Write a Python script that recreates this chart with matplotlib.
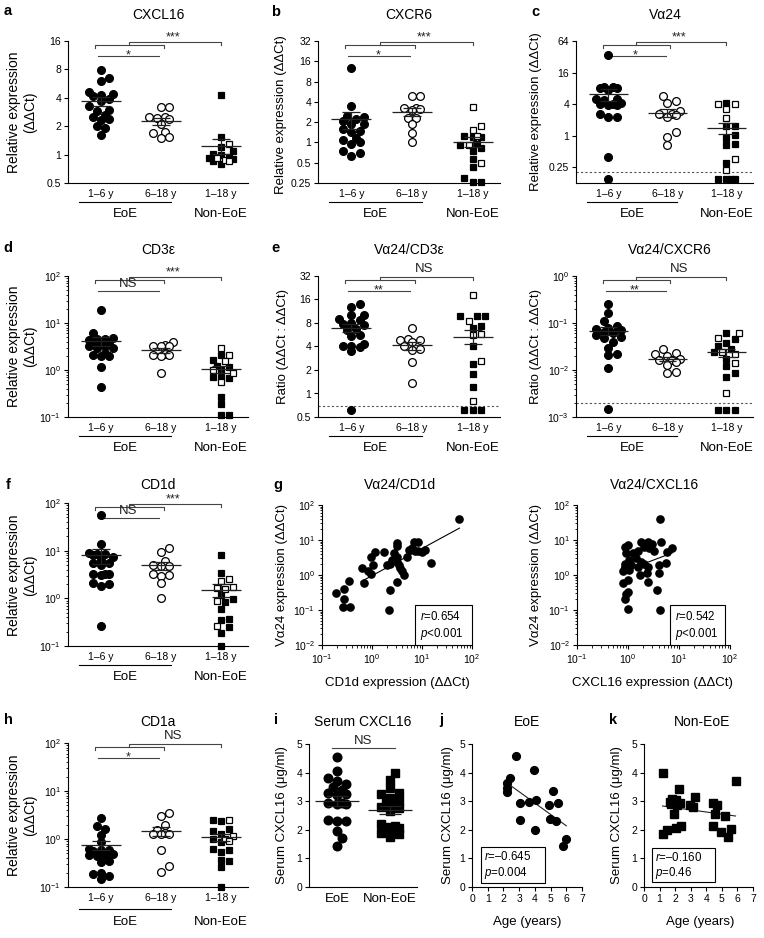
import numpy as np
import matplotlib
matplotlib.use('Agg')
import matplotlib.pyplot as plt
from matplotlib.patches import Rectangle
from matplotlib.ticker import LogLocator, NullLocator, NullFormatter

plt.rcParams['font.family'] = ['Liberation Sans', 'DejaVu Sans']
plt.rcParams['mathtext.fontset'] = 'custom'
plt.rcParams['mathtext.rm'] = 'Liberation Sans'
plt.rcParams['mathtext.it'] = 'Liberation Sans:italic'
plt.rcParams['mathtext.bf'] = 'Liberation Sans:bold'
plt.rcParams['axes.linewidth'] = 0.8
plt.rcParams['xtick.major.width'] = 0.8
plt.rcParams['ytick.major.width'] = 0.8
plt.rcParams['xtick.minor.width'] = 0.6
plt.rcParams['ytick.minor.width'] = 0.6
plt.rcParams['xtick.major.size'] = 3
plt.rcParams['ytick.major.size'] = 3
plt.rcParams['xtick.minor.size'] = 1.8
plt.rcParams['ytick.minor.size'] = 1.8
plt.rcParams['xtick.labelsize'] = 7.5
plt.rcParams['ytick.labelsize'] = 7.5
plt.rcParams['xtick.major.pad'] = 2
plt.rcParams['ytick.major.pad'] = 2

# ---------------- data ----------------
cat_labels = ['1–6 y', '6–18 y', '1–18 y']

# a: CXCL16
cxcl16_young = [7.9, 6.5, 6.0, 4.6, 4.4, 4.3, 4.2, 3.9, 3.7, 3.3, 3.0, 2.9, 2.6, 2.5, 2.4, 2.35, 2.0, 1.9, 1.6]
cxcl16_old = [3.2, 3.2, 2.5, 2.5, 2.45, 2.4, 2.1, 1.75, 1.7, 1.5, 1.55]
cxcl16_non_f = [4.3, 1.55, 1.2, 1.1, 1.02, 1.0, 0.95, 0.93, 0.9, 0.86, 0.8]
cxcl16_non_o = [1.28, 0.92, 0.88, 0.85]

# b: CXCR6
cxcr6_young = [12.6, 3.5, 2.5, 2.4, 2.2, 2.1, 1.9, 1.85, 1.6, 1.5, 1.45, 1.15, 1.1, 1.0, 0.95, 0.75, 0.7, 0.62]
cxcr6_old = [4.9, 4.9, 3.2, 3.2, 3.1, 3.0, 2.3, 2.3, 1.85, 1.4, 1.0]
cxcr6_non_f = [1.25, 1.2, 1.2, 0.95, 0.92, 0.83, 0.75, 0.57, 0.43, 0.3, 0.26, 0.26]
cxcr6_non_o = [3.4, 1.75, 1.55, 1.25, 0.92, 0.5]

# c: Va24
va24_young = [35, 8.4, 8.4, 8.2, 8.2, 7.6, 5.0, 5.0, 4.8, 4.2, 4.0, 4.0, 3.8, 3.8, 2.6, 2.3, 2.3, 0.4, 0.15]
va24_old = [5.6, 4.6, 4.2, 3.0, 2.6, 2.6, 2.5, 2.3, 1.2, 0.95, 0.65]
va24_non_f = [4.2, 1.55, 1.5, 1.05, 0.9, 0.68, 0.65, 0.3, 0.15, 0.15, 0.15, 0.15]
va24_non_o = [4.0, 4.1, 3.2, 2.2, 0.36, 0.22]

# d: CD3e
cd3_young = [19, 6.0, 4.8, 4.6, 4.5, 4.3, 3.9, 3.8, 3.7, 3.3, 3.2, 3.0, 2.9, 2.3, 2.1, 2.0, 2.0, 1.15, 0.44]
cd3_old = [3.9, 3.4, 3.3, 3.2, 3.2, 2.2, 2.1, 2.1, 2.0, 0.87]
cd3_non_f = [2.1, 1.6, 1.2, 1.15, 1.0, 0.7, 0.7, 0.68, 0.27, 0.19, 0.11, 0.11]
cd3_non_o = [3.0, 2.1, 1.55, 1.0, 0.85, 0.55]

# e: Va24/CD3e ratio
rcd3_young = [14, 12.7, 10.2, 10.0, 9.0, 8.8, 8.0, 7.8, 7.6, 6.8, 6.5, 5.6, 5.4, 4.3, 4.1, 4.0, 3.9, 3.5, 0.62]
rcd3_old = [6.9, 5.0, 4.9, 4.8, 4.6, 4.0, 3.7, 3.6, 2.5, 1.35]
rcd3_non_f = [9.9, 9.7, 9.8, 7.3, 6.9, 4.1, 2.4, 1.8, 1.2, 0.62, 0.62, 0.62]
rcd3_non_o = [18.3, 8.4, 5.8, 5.6, 2.6, 0.8]

# e (right): Va24/CXCR6 ratio
rcxcr6_young = [0.25, 0.16, 0.11, 0.085, 0.08, 0.075, 0.07, 0.065, 0.06, 0.055, 0.05, 0.048, 0.04,
                0.03, 0.022, 0.021, 0.011, 0.0015]
rcxcr6_old = [0.028, 0.023, 0.022, 0.02, 0.017, 0.016, 0.016, 0.015, 0.013, 0.0092, 0.0085]
rcxcr6_non_f = [0.06, 0.045, 0.038, 0.032, 0.028, 0.024, 0.017, 0.012, 0.0085, 0.007, 0.0014, 0.0014, 0.0014]
rcxcr6_non_o = [0.062, 0.048, 0.024, 0.022, 0.014, 0.0032]

# f: CD1d
cd1d_young = [55, 14, 9.0, 8.5, 8.5, 8.3, 7.5, 6.5, 5.6, 5.5, 5.0, 3.2, 3.1, 3.2, 3.3, 2.1, 2.0, 1.8, 0.26]
cd1d_old = [11.5, 9.5, 6.0, 5.0, 4.8, 4.7, 3.3, 3.1, 3.0, 2.1, 1.0]
cd1d_non_f = [8.0, 3.4, 1.2, 0.95, 0.82, 0.6, 0.36, 0.35, 0.25, 0.19, 0.1]
cd1d_non_o = [2.6, 2.3, 1.7, 1.6, 1.65, 0.87, 0.26]

# g: Va24 vs CD1d
g_cd1d = [0.19, 0.28, 0.28, 0.35, 0.26, 0.37, 0.63, 0.68, 0.85, 0.95, 0.95, 1.17, 1.07, 1.7, 1.95, 2.3, 2.3,
          2.2, 2.5, 2.8, 3.1, 3.1, 3.2, 3.2, 3.4, 3.7, 4.0, 4.3, 3.2, 4.9, 5.4, 6.3, 7.4, 6.8, 8.5, 8.5,
          10, 11.7, 14.8, 56]
g_va24 = [0.30, 0.39, 0.21, 0.69, 0.12, 0.12, 1.6, 0.60, 1.26, 1.07, 3.3, 4.4, 1.95, 4.4, 1.95, 2.1, 0.37,
          0.10, 2.7, 4.2, 8.3, 6.8, 3.3, 2.4, 1.95, 1.55, 1.26, 1.0, 0.65, 3.2, 5.1, 5.8, 4.7, 8.9, 8.9, 4.7,
          4.4, 5.1, 2.2, 39]
g_fit_start = 0.6

# g (right): Va24 vs CXCL16
g2_cxcl16 = [4.3, 0.87, 1.0, 0.93, 1.26, 1.55, 1.8, 2.45, 3.0, 2.1, 2.6, 3.3, 4.5, 5.9, 7.4, 1.45, 1.07,
             0.87, 1.15, 1.55, 1.8, 2.1, 2.45, 0.87, 1.07, 0.79, 0.98, 1.7, 2.35, 4.1, 4.1, 5.5, 2.45, 3.7,
             0.98, 0.93, 0.87, 0.98, 4.3, 0.89, 0.79]
g2_va24 = [39, 6.5, 7.2, 4.2, 4.2, 4.7, 8.9, 8.9, 7.9, 6.5, 5.8, 4.7, 8.9, 4.4, 6.0, 3.0, 2.7, 2.0, 1.95,
           1.74, 2.4, 2.1, 1.74, 1.55, 1.38, 0.58, 0.72, 0.98, 1.17, 1.95, 1.12, 2.2, 0.65, 0.37, 0.33,
           0.28, 0.21, 0.11, 0.10, 1.74, 1.26]
g2_fit_start = 0.85

# h: CD1a
cd1a_young = [2.8, 1.85, 1.65, 1.2, 0.85, 0.62, 0.6, 0.58, 0.56, 0.48, 0.47, 0.46, 0.44, 0.35, 0.33, 0.2,
              0.19, 0.17, 0.15]
cd1a_old = [3.5, 3.0, 2.0, 1.55, 1.35, 1.3, 1.3, 1.25, 0.58, 0.27, 0.21]
cd1a_non_f = [2.5, 2.4, 1.6, 1.5, 1.3, 1.0, 0.85, 0.62, 0.6, 0.53, 0.37, 0.34, 0.26, 0.1]
cd1a_non_o = [2.45, 1.15, 1.0, 0.9]

# i: serum CXCL16 (ug/ml)
serum_groups = ['EoE', 'Non-EoE']
serum_eoe = [4.55, 4.05, 3.8, 3.7, 3.6, 3.5, 3.4, 3.3, 3.25, 3.2, 2.95, 2.95, 2.9, 2.9, 2.35, 2.3, 2.3,
             1.95, 1.7, 1.45]
serum_non = [4.0, 3.75, 3.45, 3.3, 3.25, 3.1, 3.0, 2.95, 2.9, 2.85, 2.8, 2.75, 2.65, 2.2, 2.15, 2.1, 2.05,
             1.95, 1.9, 1.85, 1.75]

# j: EoE serum vs age
j_age = [2.77, 3.92, 2.4, 2.2, 2.2, 2.2, 3.04, 3.6, 4.1, 5.18, 4.93, 5.5, 3.07, 4.96, 5.33, 4.0, 6.0, 5.8]
j_serum = [4.58, 4.09, 3.8, 3.63, 3.47, 3.33, 2.93, 2.97, 3.05, 3.34, 2.87, 2.93, 2.33, 2.38, 2.31, 2.0,
           1.69, 1.44]

# k: Non-EoE serum vs age
k_age = [1.23, 1.19, 1.47, 1.68, 1.72, 1.83, 1.94, 2.05, 2.11, 2.26, 2.33, 1.9, 2.05, 2.39, 2.97, 3.13,
         3.3, 4.42, 4.68, 4.59, 4.42, 5.17, 4.96, 5.39, 5.56, 5.88]
k_serum = [4.0, 1.85, 1.98, 2.98, 2.9, 3.07, 2.93, 3.05, 2.85, 3.42, 2.93, 2.56, 2.08, 2.15, 2.85, 2.78,
           3.14, 2.95, 2.85, 2.56, 2.15, 2.49, 1.94, 1.74, 2.02, 3.71]

# ---------------- helpers ----------------
W, H = 764, 938
fig = plt.figure(figsize=(W / 100, H / 100), dpi=100)


def add_ax(x0, y0, x1, y1):
    # axes from pixel box (left, top, right, bottom)
    ax = fig.add_axes([x0 / W, 1 - y1 / H, (x1 - x0) / W, (y1 - y0) / H])
    ax.spines['top'].set_visible(False)
    ax.spines['right'].set_visible(False)
    return ax


def ftext(x, y, s, **kw):
    kw.setdefault('ha', 'center')
    kw.setdefault('va', 'center')
    fig.text(x / W, 1 - y / H, s, **kw)


def swarm(ax, x0, vals, d=8.3, maxw=13):
    # beeswarm in pixel space, kept within +-maxw px of the centre;
    # points overlap a little when a row gets full (as in the original)
    vals = np.asarray(vals, float)
    pts = ax.transData.transform(np.column_stack([np.full(len(vals), x0), vals]))
    ys = pts[:, 1]
    steps = [0.0]
    k = 1
    while k * d * 0.5 <= maxw:
        steps += [k * d * 0.5, -k * d * 0.5]
        k += 1
    offs = np.zeros(len(vals))
    placed = []
    for i in np.argsort(ys):
        best, best_gap = 0.0, -1
        for c in steps:
            gap = min([np.hypot(c - px, ys[i] - py) for px, py in placed] or [99])
            if gap >= 0.85 * d:
                best = c
                break
            if gap > best_gap:
                best, best_gap = c, gap
        offs[i] = best
        placed.append((best, ys[i]))
    back = ax.transData.inverted().transform(np.column_stack([pts[:, 0] + offs, ys]))
    return back[:, 0]


def mean_sem(ax, x, vals, half=0.33, cap=0.15):
    v = np.asarray(vals, float)
    m = v.mean()
    s = v.std(ddof=1) / np.sqrt(len(v))
    kw = dict(color='#222222', lw=0.9, zorder=5, solid_capstyle='butt')
    ax.plot([x - half, x + half], [m, m], **kw)
    ax.plot([x, x], [m - s, m + s], **kw)
    ax.plot([x - cap, x + cap], [m + s, m + s], **kw)
    ax.plot([x - cap, x + cap], [m - s, m - s], **kw)


def sig_text(ax, x, off, s, h):
    fs = 9.5 if s == 'NS' else 9
    ax.text(x, 1 - off / h, s, transform=ax.get_xaxis_transform(), ha='center', va='baseline',
            fontsize=fs, color='#222222')


def stat_box(ax, x0, x1, y0, y1, r, p):
    ax.add_patch(Rectangle((x0, y0), x1 - x0, y1 - y0, transform=ax.transAxes, fc='white',
                           ec='black', lw=0.8, clip_on=False, zorder=6))
    kw = dict(transform=ax.transAxes, ha='left', va='center', fontsize=8.3, zorder=7)
    ax.text(x0 + 0.03, y0 + 0.72 * (y1 - y0), r'$\mathit{r}$=' + r, **kw)
    ax.text(x0 + 0.03, y0 + 0.28 * (y1 - y0), r'$\mathit{p}$' + p, **kw)


def cat_panel(box, young, old, non_f, non_o, ylim, yticks, log10=False, stars=('*', '***'),
              cutoff=None, under=(19, 31)):
    x0, y0, x1, y1 = box
    h = y1 - y0
    ax = add_ax(*box)
    ax.set_yscale('log', base=10 if log10 else 2)
    ax.set_ylim(ylim)
    ax.set_xlim(-0.55, 2.45)
    ax.set_yticks(yticks)
    if log10:
        ax.yaxis.set_minor_locator(LogLocator(base=10, subs=np.arange(2, 10)))
        ax.yaxis.set_minor_formatter(NullFormatter())
    else:
        ax.yaxis.set_minor_locator(NullLocator())
        ax.set_yticklabels(['%g' % t for t in yticks])

    if cutoff is not None:
        ax.axhline(cutoff, color='#555555', lw=0.8, ls=(0, (2, 2)), zorder=1)

    mk = dict(mec='black', mew=0.9, ls='none', clip_on=False, zorder=3)
    ax.plot(swarm(ax, 0, young), young, 'o', ms=5.6, mfc='black', **mk)
    ax.plot(swarm(ax, 1, old), old, 'o', ms=5.6, mfc='white', **mk)
    non = list(non_f) + list(non_o)
    xs = swarm(ax, 2, non)
    n = len(non_f)
    ax.plot(xs[:n], non_f, 's', ms=5.0, mfc='black', **mk)
    ax.plot(xs[n:], non_o, 's', ms=5.0, mfc='white', **mk)
    for x, v in zip([0, 1, 2], [young, old, non]):
        mean_sem(ax, x, v)

    # category labels + EoE / Non-EoE grouping
    ax.set_xticks([0, 1, 2])
    ax.set_xticklabels(cat_labels)
    ax.tick_params(axis='x', length=0, pad=4)
    tr = ax.get_xaxis_transform()
    ax.plot([-0.37, 1.17], [-under[0] / h] * 2, color='black', lw=0.8, transform=tr, clip_on=False)
    ax.text(0.4, -under[1] / h, 'EoE', transform=tr, ha='center', va='center', fontsize=9.5)
    ax.text(2.0, -under[1] / h, 'Non-EoE', transform=tr, ha='center', va='center', fontsize=9.5)

    # significance brackets
    def fy(off):
        return 1 - off / h
    bk = dict(color='#444444', lw=0.8, transform=tr, clip_on=False)
    ax.plot([-0.1, -0.1, 1.05, 1.05], [fy(7), fy(4), fy(4), fy(7)], **bk)
    ax.plot([0.47, 0.47, 2.0, 2.0], [fy(4), fy(1), fy(1), fy(4)], **bk)
    ax.plot([-0.05, 0.97], [fy(15), fy(15)], **bk)
    low, high = stars
    sig_text(ax, 1.2, -4 if high == 'NS' else -1, high, h)
    sig_text(ax, 0.45, 11 if low == 'NS' else 17, low, h)
    return ax


def scatter_panel(box, xs, ys, fit_start, r, p, bx):
    ax = add_ax(*box)
    ax.set_xscale('log')
    ax.set_yscale('log')
    ax.set_xlim(0.1, 100)
    ax.set_ylim(0.01, 100)
    ax.set_xticks([0.1, 1, 10, 100])
    ax.set_yticks([0.01, 0.1, 1, 10, 100])
    for axis in (ax.xaxis, ax.yaxis):
        axis.set_minor_locator(LogLocator(base=10, subs=np.arange(2, 10)))
        axis.set_minor_formatter(NullFormatter())
    ax.plot(xs, ys, 'o', color='black', ms=5.2, ls='none', clip_on=False, zorder=3)
    lx, ly = np.log10(xs), np.log10(ys)
    b, a = np.polyfit(lx, ly, 1)
    xx = np.array([np.log10(fit_start), lx.max()])
    ax.plot(10 ** xx, 10 ** (a + b * xx), color='black', lw=0.8, zorder=2)
    stat_box(ax, bx[0], bx[1], 0, 0.285, r, p)
    return ax


def age_panel(box, ages, vals, marker, r, p, bx):
    ax = add_ax(*box)
    ax.set_xlim(0, 7)
    ax.set_ylim(0, 5)
    ax.set_xticks(range(8))
    ax.set_yticks(range(6))
    ax.plot(ages, vals, marker, color='black', ms=5.6 if marker == 'o' else 5.2, ls='none',
            clip_on=False, zorder=3)
    b, a = np.polyfit(ages, vals, 1)
    xx = np.array([min(ages), max(ages)])
    ax.plot(xx, a + b * xx, color='#222222', lw=0.8)
    stat_box(ax, bx[0], bx[1], bx[2], bx[3], r, p)
    return ax


ylab = dict(rotation=90, fontsize=9.5)
ylab2 = dict(rotation=90, fontsize=10, linespacing=1.25)
title_kw = dict(fontsize=10)
letter_kw = dict(fontsize=10.5, fontweight='bold')

# ---------------- row 1 ----------------
cat_panel((68, 41, 248, 183), cxcl16_young, cxcl16_old, cxcl16_non_f, cxcl16_non_o,
          (0.5, 16), [0.5, 1, 2, 4, 8, 16])
ftext(8, 11, 'a', **letter_kw)
ftext(158, 15, 'CXCL16', **title_kw)
ftext(22, 112, 'Relative expression\n(ΔΔCt)', **ylab2)

cat_panel((318, 41, 500, 183), cxcr6_young, cxcr6_old, cxcr6_non_f, cxcr6_non_o,
          (0.25, 32), [0.25, 0.5, 1, 2, 4, 8, 16, 32])
ftext(276, 12, 'b', **letter_kw)
ftext(409, 15, 'CXCR6', **title_kw)
ftext(281, 115, 'Relative expression (ΔΔCt)', **ylab)

cat_panel((576, 41, 753, 183), va24_young, va24_old, va24_non_f, va24_non_o,
          (0.125, 64), [0.25, 1, 4, 16, 64], cutoff=0.2)
ftext(535, 12, 'c', **letter_kw)
ftext(665, 15, 'Vα24', **title_kw)
ftext(536, 112, 'Relative expression (ΔΔCt)', **ylab)

# ---------------- row 2 ----------------
cat_panel((68, 276, 248, 417), cd3_young, cd3_old, cd3_non_f, cd3_non_o,
          (0.1, 100), [0.1, 1, 10, 100], log10=True, stars=('NS', '***'))
ftext(8, 248, 'd', **letter_kw)
ftext(158, 250, 'CD3ε', **title_kw)
ftext(22, 346, 'Relative expression\n(ΔΔCt)', **ylab2)

cat_panel((318, 276, 500, 417), rcd3_young, rcd3_old, rcd3_non_f, rcd3_non_o,
          (0.5, 32), [0.5, 1, 2, 4, 8, 16, 32], stars=('**', 'NS'), cutoff=0.7)
ftext(276, 248, 'e', **letter_kw)
ftext(409, 250, 'Vα24/CD3ε', **title_kw)
ftext(283, 346, 'Ratio (ΔΔCt : ΔΔCt)', **ylab)

cat_panel((576, 276, 753, 417), rcxcr6_young, rcxcr6_old, rcxcr6_non_f, rcxcr6_non_o,
          (0.001, 1), [0.001, 0.01, 0.1, 1], log10=True, stars=('**', 'NS'), cutoff=0.002)
ftext(670, 250, 'Vα24/CXCR6', **title_kw)
ftext(536, 346, 'Ratio (ΔΔCt : ΔΔCt)', **ylab)

# ---------------- row 3 ----------------
cat_panel((68, 503, 248, 646), cd1d_young, cd1d_old, cd1d_non_f, cd1d_non_o,
          (0.1, 100), [0.1, 1, 10, 100], log10=True, stars=('NS', '***'))
ftext(8, 485, 'f', **letter_kw)
ftext(158, 485, 'CD1d', **title_kw)
ftext(22, 575, 'Relative expression\n(ΔΔCt)', **ylab2)

scatter_panel((322, 505, 472, 645), g_cd1d, g_va24, g_fit_start, '0.654', '<0.001', (0.62, 1.0))
ftext(278, 485, 'g', **letter_kw)
ftext(400, 485, 'Vα24/CD1d', **title_kw)
ftext(282, 575, 'Vα24 expression (ΔΔCt)', **ylab)
ftext(397, 683, 'CD1d expression (ΔΔCt)', fontsize=9.5)

scatter_panel((577, 505, 730, 645), g2_cxcl16, g2_va24, g2_fit_start, '0.542', '<0.001', (0.61, 0.97))
ftext(655, 485, 'Vα24/CXCL16', **title_kw)
ftext(536, 575, 'Vα24 expression (ΔΔCt)', **ylab)
ftext(652, 683, 'CXCL16 expression (ΔΔCt)', fontsize=9.5)

# ---------------- row 4 ----------------
cat_panel((68, 743, 248, 887), cd1a_young, cd1a_old, cd1a_non_f, cd1a_non_o,
          (0.1, 100), [0.1, 1, 10, 100], log10=True, stars=('*', 'NS'), under=(22, 35))
ftext(8, 720, 'h', **letter_kw)
ftext(158, 722, 'CD1a', **title_kw)
ftext(22, 815, 'Relative expression\n(ΔΔCt)', **ylab2)

# i: serum CXCL16
axi = add_ax(309, 744, 417, 887)
axi.set_xlim(-0.53, 1.51)
axi.set_ylim(0, 5)
axi.set_yticks(range(6))
axi.plot(swarm(axi, 0, serum_eoe, d=9, maxw=12), serum_eoe, 'o', color='black', ms=6.2, ls='none',
         clip_on=False, zorder=3)
axi.plot(swarm(axi, 1, serum_non, d=9, maxw=12), serum_non, 's', color='black', ms=5.6, ls='none',
         clip_on=False, zorder=3)
mean_sem(axi, 0, serum_eoe, half=0.42, cap=0.2)
mean_sem(axi, 1, serum_non, half=0.42, cap=0.2)
axi.set_xticks([0, 1])
axi.set_xticklabels(serum_groups, fontsize=9.5)
axi.tick_params(axis='x', length=0, pad=4)
axi.plot([-0.1, 1.09], [1 - 4 / 143] * 2, color='#444444', lw=0.8,
         transform=axi.get_xaxis_transform(), clip_on=False)
sig_text(axi, 0.5, 0, 'NS', 143)
ftext(276, 720, 'i', **letter_kw)
ftext(363, 722, 'Serum CXCL16', **title_kw)
ftext(282, 815, 'Serum CXCL16 (μg/ml)', **ylab)

age_panel((472, 744, 582, 887), j_age, j_serum, 'o', '–0.645', '=0.004', (0.08, 0.66, 0.03, 0.28))
ftext(441, 720, 'j', **letter_kw)
ftext(527, 722, 'EoE', **title_kw)
ftext(448, 815, 'Serum CXCL16 (μg/ml)', **ylab)
ftext(527, 922, 'Age (years)', fontsize=9.5)

age_panel((644, 744, 753, 887), k_age, k_serum, 's', '–0.160', '=0.46', (0.07, 0.65, 0.035, 0.27))
ftext(613, 720, 'k', **letter_kw)
ftext(702, 722, 'Non-EoE', **title_kw)
ftext(617, 815, 'Serum CXCL16 (μg/ml)', **ylab)
ftext(700, 922, 'Age (years)', fontsize=9.5)

fig.savefig('out.png', dpi=100, facecolor='white')
